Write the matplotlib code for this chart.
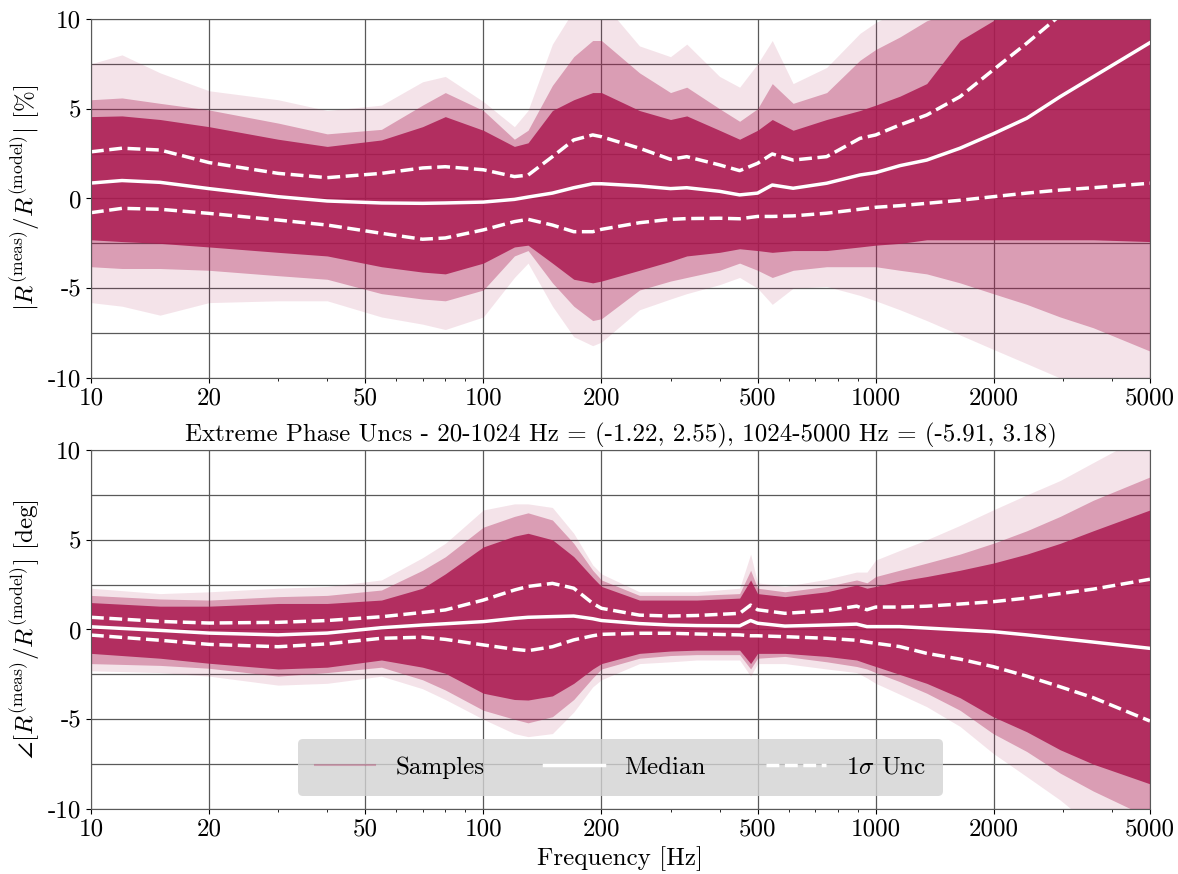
import numpy as np
import matplotlib
matplotlib.use("Agg")
import matplotlib.pyplot as plt
from matplotlib.lines import Line2D

plt.rcParams['font.family'] = 'serif'
plt.rcParams['font.serif'] = ['cmr10']
plt.rcParams['mathtext.fontset'] = 'cm'
plt.rcParams['axes.formatter.use_mathtext'] = True
plt.rcParams['axes.unicode_minus'] = False

SAMPLE_COLOR = '#ab1b51'
FS = 18

# ---- magnitude panel (percent) ----
mag_freq = [10, 12, 15, 20, 30, 40, 55, 70, 80, 100, 120, 130, 150, 170, 190, 200,
            250, 300, 330, 400, 450, 500, 545, 616, 750, 912, 1000, 1153, 1349,
            1640, 1992, 2427, 2951, 3584, 5000]
mag_median = [0.86, 1.0, 0.9, 0.55, 0.1, -0.14, -0.25, -0.27, -0.25, -0.2, -0.05, 0.08,
              0.3, 0.6, 0.82, 0.82, 0.7, 0.55, 0.6, 0.4, 0.2, 0.3, 0.75, 0.57, 0.85,
              1.31, 1.44, 1.83, 2.14, 2.8, 3.6, 4.47, 5.67, 6.78, 8.68]
mag_up = [2.6, 2.8, 2.7, 2.0, 1.4, 1.16, 1.4, 1.7, 1.77, 1.6, 1.22, 1.3, 2.33, 3.26,
          3.54, 3.44, 2.8, 2.18, 2.33, 1.87, 1.55, 1.96, 2.48, 2.14, 2.33, 3.35, 3.54,
          4.1, 4.65, 5.67, 7.16, 8.65, 10.2, 11.8, 15.0]
mag_lo = [-0.79, -0.55, -0.6, -0.83, -1.2, -1.48, -1.94, -2.27, -2.2, -1.75, -1.29,
          -1.16, -1.48, -1.85, -1.85, -1.72, -1.35, -1.16, -1.12, -1.1, -1.13, -1.0,
          -1.0, -0.97, -0.82, -0.6, -0.49, -0.4, -0.27, -0.1, 0.1, 0.3, 0.47, 0.6, 0.85]
mag_dense_up = [4.56, 4.6, 4.4, 4.0, 3.3, 2.9, 3.26, 4.0, 4.56, 3.8, 2.9, 3.1, 4.9, 5.5,
                5.9, 5.9, 4.9, 4.4, 4.6, 3.8, 3.3, 3.8, 4.4, 3.8, 4.4, 4.9, 5.2, 5.7,
                6.4, 8.8, 9.9, 11.5, 13, 14, 16]
mag_mid_up = [5.5, 5.6, 5.3, 4.93, 4.2, 3.6, 3.85, 5.2, 5.9, 4.9, 3.3, 3.8, 6.3, 7.9,
              8.8, 8.8, 7.0, 5.9, 6.2, 5.0, 4.3, 5.0, 6.4, 5.3, 5.9, 7.7, 8.3, 9.0,
              9.9, 10.5, 11.5, 13, 14, 15, 17]
mag_out_up = [7.5, 8.0, 7.0, 6.0, 5.5, 4.9, 5.2, 6.5, 6.8, 5.4, 4.0, 4.9, 8.6, 10.5,
              11, 11, 8.5, 7.9, 8.6, 6.8, 6.2, 7.5, 8.8, 6.4, 7.3, 9.2, 9.8, 10.5,
              11, 12, 13, 14, 15, 16, 18]
mag_dense_lo = [-2.3, -2.4, -2.5, -2.7, -3.0, -3.2, -3.8, -4.1, -4.2, -3.6, -2.7, -2.6,
                -3.6, -4.5, -4.7, -4.6, -4.0, -3.5, -3.2, -3.0, -2.8, -2.9, -3.0, -2.9,
                -2.9, -2.7, -2.6, -2.5, -2.3, -2.3, -2.3, -2.3, -2.3, -2.3, -2.4]
mag_mid_lo = [-3.8, -3.9, -3.9, -4.0, -4.3, -4.5, -5.3, -5.6, -5.7, -5.1, -3.2, -2.9,
              -4.7, -6.0, -6.8, -6.7, -5.1, -4.6, -4.4, -4.0, -3.6, -4.0, -4.4, -4.0,
              -3.8, -3.8, -3.8, -4.0, -4.2, -4.7, -5.3, -5.9, -6.6, -7.2, -8.5]
mag_out_lo = [-5.8, -6.0, -6.5, -5.8, -5.7, -5.7, -6.6, -7.0, -7.3, -6.6, -4.4, -3.6,
              -6.0, -7.7, -8.2, -8.0, -6.2, -5.6, -5.3, -4.8, -4.4, -5.0, -5.9, -5.0,
              -4.9, -5.4, -5.7, -6.2, -6.8, -7.6, -8.4, -9.2, -10.0, -11, -13]

# ---- phase panel (degrees) ----
ph_freq = [10, 15, 20, 30, 40, 55, 70, 80, 100, 120, 130, 150, 170, 190, 200, 250, 300,
           350, 450, 480, 500, 587, 750, 894, 950, 1000, 1150, 1349, 1640, 1992, 2427,
           2951, 3584, 5000]
ph_median = [0.15, -0.05, -0.2, -0.3, -0.2, 0.1, 0.25, 0.32, 0.44, 0.62, 0.68, 0.72,
             0.75, 0.6, 0.5, 0.33, 0.25, 0.22, 0.2, 0.5, 0.35, 0.19, 0.25, 0.3, 0.16,
             0.16, 0.16, 0.08, -0.02, -0.12, -0.3, -0.5, -0.7, -1.05]
ph_up = [0.68, 0.45, 0.36, 0.4, 0.5, 0.71, 0.95, 1.09, 1.64, 2.2, 2.4, 2.57, 2.3, 1.46,
         1.18, 0.8, 0.75, 0.78, 0.9, 1.36, 1.1, 0.9, 1.05, 1.3, 1.1, 1.25, 1.25, 1.3,
         1.42, 1.55, 1.75, 2.0, 2.25, 2.8]
ph_lo = [-0.31, -0.6, -0.83, -0.96, -0.8, -0.49, -0.43, -0.55, -0.86, -1.1, -1.18,
         -0.96, -0.58, -0.35, -0.27, -0.21, -0.21, -0.25, -0.3, -0.35, -0.35, -0.4,
         -0.49, -0.6, -0.7, -0.77, -0.95, -1.33, -1.65, -2.07, -2.6, -3.19, -3.8, -5.1]
ph_dense_up = [1.5, 1.3, 1.3, 1.45, 1.45, 1.64, 2.3, 3.1, 4.6, 5.2, 5.36, 5.0, 4.06,
               2.9, 2.4, 1.64, 1.64, 1.64, 1.75, 2.76, 2.0, 1.83, 2.1, 2.48, 2.3, 2.4,
               2.7, 2.95, 3.3, 3.7, 4.2, 4.8, 5.5, 6.66]
ph_mid_up = [1.9, 1.7, 1.64, 1.83, 1.9, 2.2, 3.3, 4.05, 5.7, 6.3, 6.5, 6.1, 4.8, 3.3,
             2.76, 1.9, 1.9, 1.9, 2.0, 3.3, 2.3, 2.1, 2.4, 2.76, 2.6, 2.95, 3.3, 3.7,
             4.2, 4.8, 5.5, 6.3, 7.2, 8.5]
ph_out_up = [2.3, 2.0, 2.1, 2.3, 2.4, 2.76, 4.0, 4.8, 6.66, 7.0, 7.0, 6.8, 5.36, 3.6,
             3.1, 2.1, 2.1, 2.1, 2.3, 4.2, 2.6, 2.4, 2.8, 3.2, 3.2, 3.87, 4.4, 5.0, 5.8,
             6.66, 7.5, 8.3, 9.3, 11]
ph_dense_lo = [-1.33, -1.6, -1.88, -2.2, -2.1, -1.7, -2.1, -2.44, -3.55, -3.9, -3.93,
               -3.7, -3.0, -2.2, -1.9, -1.33, -1.2, -1.15, -1.15, -1.9, -1.33, -1.33,
               -1.5, -1.7, -1.9, -2.06, -2.5, -3.0, -3.8, -4.86, -5.7, -6.7, -7.5, -8.6]
ph_mid_lo = [-1.9, -2.0, -2.16, -2.6, -2.4, -2.1, -2.8, -3.37, -4.5, -5.0, -5.2, -4.86,
             -3.9, -2.7, -2.2, -1.6, -1.45, -1.4, -1.4, -2.2, -1.6, -1.5, -1.8, -2.06,
             -2.2, -2.4, -2.9, -3.55, -4.5, -5.8, -6.8, -8.0, -9.0, -10.5]
ph_out_lo = [-2.3, -2.4, -2.6, -3.1, -3.0, -2.6, -3.3, -3.9, -5.0, -5.8, -5.97, -5.8,
             -4.6, -3.2, -2.8, -1.9, -1.8, -1.7, -1.7, -2.6, -1.9, -1.9, -2.2, -2.4,
             -2.7, -3.0, -3.6, -4.3, -5.4, -6.9, -8.2, -9.5, -11, -13]

xticks = [10, 20, 50, 100, 200, 500, 1000, 2000, 5000]
yticks = [-10, -5, 0, 5, 10]

title = ('Extreme Phase Uncs - 20-1024 Hz = (-1.22, 2.55), '
         '1024-5000 Hz = (-5.91, 3.18)')


def draw_panel(ax, f, med, up, lo, dup, dlo, mup, mlo, oup, olo):
    # sample cloud as layered bands
    ax.fill_between(f, olo, oup, color=SAMPLE_COLOR, alpha=0.12, lw=0)
    ax.fill_between(f, mlo, mup, color=SAMPLE_COLOR, alpha=0.35, lw=0)
    ax.fill_between(f, dlo, dup, color=SAMPLE_COLOR, alpha=0.85, lw=0)
    ax.plot(f, med, color='white', lw=2.5)
    ax.plot(f, up, color='white', lw=2.5, ls='--')
    ax.plot(f, lo, color='white', lw=2.5, ls='--')

    ax.set_xscale('log')
    ax.set_xlim(10, 5000)
    ax.set_ylim(-10, 10)
    ax.set_xticks(xticks)
    ax.set_xticklabels([str(t) for t in xticks])
    ax.set_yticks(yticks)
    ax.set_yticklabels([str(t) for t in yticks])
    ax.set_yticks([-7.5, -2.5, 2.5, 7.5], minor=True)
    ax.tick_params(axis='both', which='major', labelsize=FS)
    ax.tick_params(axis='y', which='minor', length=0)
    ax.set_axisbelow(True)
    ax.grid(True, which='major', color='0.35', lw=0.9)
    ax.grid(True, which='minor', axis='y', color='0.35', lw=0.9)
    for s in ax.spines.values():
        s.set_color('0.35')


fig = plt.figure(figsize=(11.78, 8.74), dpi=100)
ax1 = fig.add_axes([0.0772, 0.5675, 0.899, 0.4108])
ax2 = fig.add_axes([0.0772, 0.0744, 0.899, 0.4107])

draw_panel(ax1, mag_freq, mag_median, mag_up, mag_lo, mag_dense_up, mag_dense_lo,
           mag_mid_up, mag_mid_lo, mag_out_up, mag_out_lo)
draw_panel(ax2, ph_freq, ph_median, ph_up, ph_lo, ph_dense_up, ph_dense_lo,
           ph_mid_up, ph_mid_lo, ph_out_up, ph_out_lo)

ax1.set_ylabel(r'$|R^{\rm (meas)}/R^{\rm (model)}|$ [%]', fontsize=FS)
ax2.set_ylabel(r'$\angle[R^{\rm (meas)}/R^{\rm (model)}]$ [deg]', fontsize=FS)
ax2.set_xlabel('Frequency [Hz]', fontsize=FS, labelpad=4)
ax2.set_title(title, fontsize=FS, pad=6)

handles = [Line2D([], [], color=SAMPLE_COLOR, alpha=0.3, lw=1.5),
           Line2D([], [], color='white', lw=2.5),
           Line2D([], [], color='white', lw=2.5, ls='--')]
leg = ax2.legend(handles, ['Samples', 'Median', r'$1\sigma$ Unc'], loc='lower center',
                 ncol=3, fontsize=FS, facecolor='#d3d3d3', framealpha=0.8,
                 edgecolor='none', fancybox=True, handlelength=2.4,
                 columnspacing=2.4, handletextpad=0.8, borderpad=0.7)

fig.savefig('out.png', dpi=100)
